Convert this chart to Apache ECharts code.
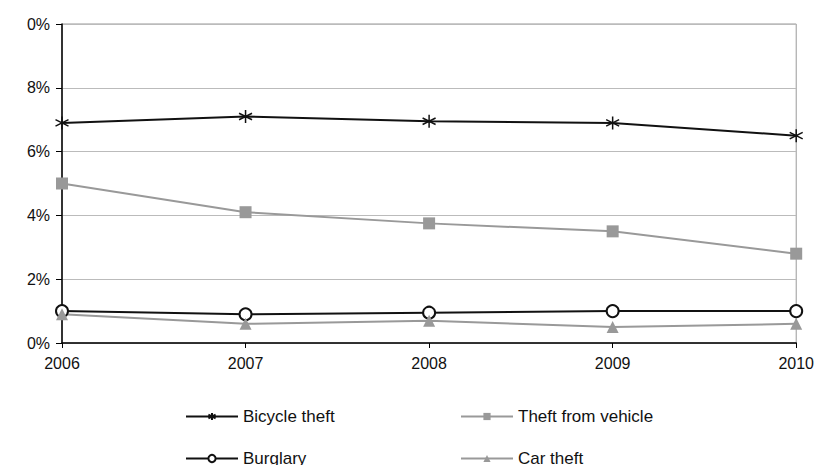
<!DOCTYPE html>
<html><head><meta charset="utf-8">
<script src="https://cdn.jsdelivr.net/npm/echarts@6/dist/echarts.min.js"></script>
<style>html,body{margin:0;background:#fff}#c{width:817px;height:465px}</style>
</head><body><div id="c"></div>
<script>
var years = ['2006', '2007', '2008', '2009', '2010'];
var bicycle = [6.9, 7.1, 6.95, 6.9, 6.5];
var vehicle = [5.0, 4.1, 3.75, 3.5, 2.8];
var burglary = [1.0, 0.9, 0.95, 1.0, 1.0];
var carTheft = [0.9, 0.6, 0.7, 0.5, 0.6];
var yTicks = {0: '0%', 2: '2%', 4: '4%', 6: '6%', 8: '8%', 10: '0%'};

var star = 'path://M0,-10L0,10M-9,-5L9,5M-9,5L9,-5';
var font = { fontFamily: 'Liberation Sans', fontSize: 16, color: '#111' };

function legend(name, left, top) {
    return { data: [name], left: left, top: top, itemWidth: 52, itemHeight: 9, itemGap: 0,
        textStyle: { fontFamily: 'Liberation Sans', fontSize: 17, color: '#111' }, padding: 0 };
}

var chart = echarts.init(document.getElementById('c'), null, { renderer: 'svg' });
chart.setOption({
    animation: false,
    grid: { left: 62, right: 20, top: 24, bottom: 122, show: true, borderColor: '#999', borderWidth: 1 },
    legend: [
        legend('Bicycle theft', 185, 408),
        legend('Theft from vehicle', 460, 408),
        legend('Burglary', 185, 450),
        legend('Car theft', 460, 450)
    ],
    xAxis: {
        type: 'category', data: years, boundaryGap: false,
        axisLine: { lineStyle: { color: '#000', width: 1.5 } },
        axisTick: { show: true, alignWithLabel: true, length: 5, lineStyle: { color: '#000' } },
        axisLabel: Object.assign({ margin: 12, showMaxLabel: true, showMinLabel: true }, font)
    },
    yAxis: {
        type: 'value', min: 0, max: 10, interval: 2,
        axisLine: { show: true, lineStyle: { color: '#000', width: 1.5 } },
        axisTick: { show: true, length: 6, lineStyle: { color: '#000' } },
        axisLabel: Object.assign({ margin: 12, formatter: function (v) { return yTicks[v]; } }, font),
        splitLine: { lineStyle: { color: '#bbb' } }
    },
    series: [
        { name: 'Bicycle theft', type: 'line', data: bicycle, symbol: star, symbolSize: 13,
          lineStyle: { color: '#111', width: 2 }, itemStyle: { color: '#111', borderColor: '#111', borderWidth: 1.5 } },
        { name: 'Theft from vehicle', type: 'line', data: vehicle, symbol: 'rect', symbolSize: 12,
          lineStyle: { color: '#999', width: 2 }, itemStyle: { color: '#999' } },
        { name: 'Burglary', type: 'line', data: burglary, symbol: 'circle', symbolSize: 12,
          lineStyle: { color: '#111', width: 2 }, itemStyle: { color: '#fff', borderColor: '#111', borderWidth: 2 } },
        { name: 'Car theft', type: 'line', data: carTheft, symbol: 'triangle', symbolSize: 12,
          lineStyle: { color: '#999', width: 2 }, itemStyle: { color: '#999' } }
    ]
});
</script></body></html>
